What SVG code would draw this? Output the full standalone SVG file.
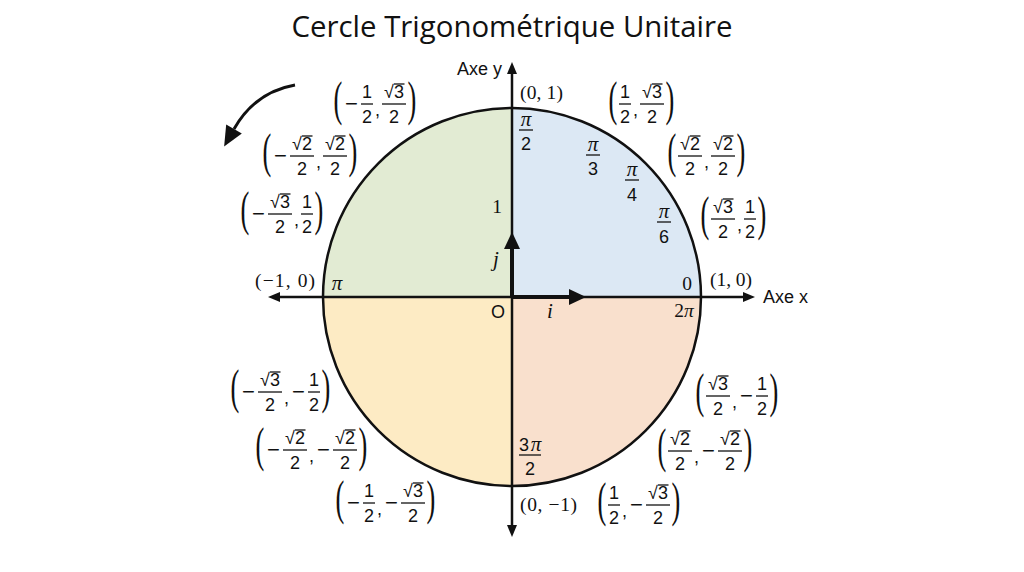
<svg xmlns="http://www.w3.org/2000/svg" width="1024" height="572" viewBox="0 0 1024 572">
<style>
.num{font-family:"Liberation Sans",Arial,sans-serif;font-size:18px;text-anchor:middle;fill:#111}
.mi{font-family:"Liberation Sans",Arial,sans-serif;font-size:22px;text-anchor:middle;fill:#111}
.par{font-family:"Liberation Serif","Times New Roman",serif;font-size:48px;text-anchor:middle;fill:#111}
.bar{stroke:#111;stroke-width:1.3}
.pi{font-family:"Liberation Serif","Times New Roman",serif;font-style:italic;font-size:21px;text-anchor:middle;fill:#111}
.ser{font-family:"Liberation Serif","Times New Roman",serif;font-size:19.5px;fill:#111}
.lab{font-family:"Liberation Sans",Arial,sans-serif;font-size:18px;fill:#111}
.title{font-family:"Open Sans","Liberation Sans",Arial,sans-serif;font-size:30px;fill:#111}
.axis{stroke:#111;stroke-width:2.5;fill:none}
</style>
<defs>
<marker id="ah" markerUnits="userSpaceOnUse" markerWidth="12" markerHeight="10" refX="0" refY="5" orient="auto-start-reverse" overflow="visible">
<path d="M0,0 L12,5 L0,10 Z" fill="#111"/>
</marker>
<marker id="vh" markerUnits="userSpaceOnUse" markerWidth="17" markerHeight="16" refX="0" refY="8" orient="auto" overflow="visible">
<path d="M0,0 L17,8 L0,16 Z" fill="#111"/>
</marker>
<marker id="ch" markerUnits="userSpaceOnUse" markerWidth="20" markerHeight="18" refX="0" refY="9" orient="auto" overflow="visible">
<path d="M0,0 L20,9 L0,18 Z" fill="#111"/>
</marker>
</defs>
<rect width="1024" height="572" fill="#ffffff"/>
<text class="title" x="512" y="37" text-anchor="middle" textLength="441" lengthAdjust="spacingAndGlyphs">Cercle Trigonométrique Unitaire</text>

<g id="circle">
<path d="M512,297 L701,297 A189,189 0 0 0 512,108 Z" fill="#dce8f4"/>
<path d="M512,297 L512,108 A189,189 0 0 0 323,297 Z" fill="#e2ebd3"/>
<path d="M512,297 L323,297 A189,189 0 0 0 512,486 Z" fill="#fdebc4"/>
<path d="M512,297 L512,486 A189,189 0 0 0 701,297 Z" fill="#f9e0cd"/>
<circle cx="512" cy="297" r="189" fill="none" stroke="#111" stroke-width="2.5"/>
</g>

<g id="connectors">
<line class="axis" x1="512" y1="525" x2="512" y2="74" marker-start="url(#ah)" marker-end="url(#ah)"/>
<line class="axis" x1="280" y1="297" x2="743" y2="297" marker-start="url(#ah)" marker-end="url(#ah)"/>
<line x1="512" y1="297" x2="512" y2="249" stroke="#111" stroke-width="4" marker-end="url(#vh)"/>
<line x1="512" y1="297" x2="569" y2="297" stroke="#111" stroke-width="4" marker-end="url(#vh)"/>
<path d="M295,85 Q255,92 234,129" fill="none" stroke="#111" stroke-width="3" marker-end="url(#ch)"/>
</g>

<g id="axis-labels">
<text class="lab" x="457" y="75">Axe y</text>
<text class="lab" x="763" y="303">Axe x</text>
<text class="ser" x="497" y="213" text-anchor="middle">1</text>
<text class="pi" x="496" y="266">j</text>
<text class="lab" x="498" y="318" text-anchor="middle">O</text>
<text class="pi" x="550" y="318">i</text>
</g>

<g id="points">
<text class="ser" x="520" y="99" textLength="43" lengthAdjust="spacing">(0, 1)</text>
<text class="ser" x="710" y="286" textLength="42" lengthAdjust="spacing">(1, 0)</text>
<text class="ser" x="255" y="287" textLength="60" lengthAdjust="spacing">(−1, 0)</text>
<text class="ser" x="520" y="511" textLength="57" lengthAdjust="spacing">(0, −1)</text>
<text class="ser" x="687" y="290" text-anchor="middle">0</text>
<text class="pi" x="337" y="290">π</text>
<text class="ser" x="684" y="317" text-anchor="middle">2<tspan font-style="italic">π</tspan></text>
</g>

<g id="angles">
<g id="a-pi2"><text class="pi" x="526" y="126">π</text><line class="bar" x1="519" y1="130" x2="533" y2="130"/><text class="num" font-size="19" x="526" y="150">2</text></g>
<g id="a-pi3"><text class="pi" x="593" y="151">π</text><line class="bar" x1="586" y1="155" x2="600" y2="155"/><text class="num" font-size="19" x="593" y="175">3</text></g>
<g id="a-pi4"><text class="pi" x="632" y="176">π</text><line class="bar" x1="625" y1="180" x2="639" y2="180"/><text class="num" font-size="19" x="632" y="201">4</text></g>
<g id="a-pi6"><text class="pi" x="664" y="218">π</text><line class="bar" x1="657" y1="222" x2="671" y2="222"/><text class="num" font-size="19" x="664" y="243">6</text></g>
<g id="a-3pi2"><text class="num" font-size="19" x="524" y="451">3</text><text class="pi" x="536" y="451">π</text><line class="bar" x1="519" y1="455" x2="541" y2="455"/><text class="num" font-size="19" x="530" y="475">2</text></g>
</g>

<g id="p1" transform="translate(333,104)">
<text class="par" transform="translate(5,11) scale(0.55,1)">(</text><text class="mi" x="18.5" y="7">−</text>
<text class="num" x="34" y="-6">1</text><line class="bar" x1="28" y1="0" x2="40" y2="0"/><text class="num" x="34" y="19">2</text>
<text class="num" x="44.5" y="12">,</text>
<text class="num" x="61" y="-6">√3</text><line class="bar" x1="49" y1="0" x2="73" y2="0"/><line class="bar" x1="61" y1="-20" x2="71.5" y2="-20"/><text class="num" x="61" y="19">2</text>
<text class="par" transform="translate(79,11) scale(0.55,1)">)</text>
</g>

<g id="p2" transform="translate(262,156)">
<text class="par" transform="translate(5,11) scale(0.55,1)">(</text><text class="mi" x="18.5" y="7">−</text>
<text class="num" x="40" y="-6">√2</text><line class="bar" x1="28" y1="0" x2="52" y2="0"/><line class="bar" x1="40" y1="-20" x2="50.5" y2="-20"/><text class="num" x="40" y="19">2</text>
<text class="num" x="56.5" y="12">,</text>
<text class="num" x="73" y="-6">√2</text><line class="bar" x1="61" y1="0" x2="85" y2="0"/><line class="bar" x1="73" y1="-20" x2="83.5" y2="-20"/><text class="num" x="73" y="19">2</text>
<text class="par" transform="translate(91,11) scale(0.55,1)">)</text>
</g>

<g id="p3" transform="translate(240,214)">
<text class="par" transform="translate(5,11) scale(0.55,1)">(</text><text class="mi" x="18.5" y="7">−</text>
<text class="num" x="40" y="-6">√3</text><line class="bar" x1="28" y1="0" x2="52" y2="0"/><line class="bar" x1="40" y1="-20" x2="50.5" y2="-20"/><text class="num" x="40" y="19">2</text>
<text class="num" x="56.5" y="12">,</text>
<text class="num" x="67" y="-6">1</text><line class="bar" x1="61" y1="0" x2="73" y2="0"/><text class="num" x="67" y="19">2</text>
<text class="par" transform="translate(79,11) scale(0.55,1)">)</text>
</g>

<g id="p4" transform="translate(608,104)">
<text class="par" transform="translate(5,11) scale(0.55,1)">(</text>
<text class="num" x="17" y="-6">1</text><line class="bar" x1="11" y1="0" x2="23" y2="0"/><text class="num" x="17" y="19">2</text>
<text class="num" x="27.5" y="12">,</text>
<text class="num" x="44" y="-6">√3</text><line class="bar" x1="32" y1="0" x2="56" y2="0"/><line class="bar" x1="44" y1="-20" x2="54.5" y2="-20"/><text class="num" x="44" y="19">2</text>
<text class="par" transform="translate(62,11) scale(0.55,1)">)</text>
</g>

<g id="p5" transform="translate(667,156)">
<text class="par" transform="translate(5,11) scale(0.55,1)">(</text>
<text class="num" x="23" y="-6">√2</text><line class="bar" x1="11" y1="0" x2="35" y2="0"/><line class="bar" x1="23" y1="-20" x2="33.5" y2="-20"/><text class="num" x="23" y="19">2</text>
<text class="num" x="39.5" y="12">,</text>
<text class="num" x="56" y="-6">√2</text><line class="bar" x1="44" y1="0" x2="68" y2="0"/><line class="bar" x1="56" y1="-20" x2="66.5" y2="-20"/><text class="num" x="56" y="19">2</text>
<text class="par" transform="translate(74,11) scale(0.55,1)">)</text>
</g>

<g id="p6" transform="translate(700,219)">
<text class="par" transform="translate(5,11) scale(0.55,1)">(</text>
<text class="num" x="23" y="-6">√3</text><line class="bar" x1="11" y1="0" x2="35" y2="0"/><line class="bar" x1="23" y1="-20" x2="33.5" y2="-20"/><text class="num" x="23" y="19">2</text>
<text class="num" x="39.5" y="12">,</text>
<text class="num" x="50" y="-6">1</text><line class="bar" x1="44" y1="0" x2="56" y2="0"/><text class="num" x="50" y="19">2</text>
<text class="par" transform="translate(62,11) scale(0.55,1)">)</text>
</g>

<g id="p7" transform="translate(695,396)">
<text class="par" transform="translate(5,11) scale(0.55,1)">(</text>
<text class="num" x="23" y="-6">√3</text><line class="bar" x1="11" y1="0" x2="35" y2="0"/><line class="bar" x1="23" y1="-20" x2="33.5" y2="-20"/><text class="num" x="23" y="19">2</text>
<text class="num" x="39.5" y="12">,</text><text class="mi" x="51.5" y="7">−</text>
<text class="num" x="67" y="-6">1</text><line class="bar" x1="61" y1="0" x2="73" y2="0"/><text class="num" x="67" y="19">2</text>
<text class="par" transform="translate(79,11) scale(0.55,1)">)</text>
</g>

<g id="p8" transform="translate(657,451)">
<text class="par" transform="translate(5,11) scale(0.55,1)">(</text>
<text class="num" x="23" y="-6">√2</text><line class="bar" x1="11" y1="0" x2="35" y2="0"/><line class="bar" x1="23" y1="-20" x2="33.5" y2="-20"/><text class="num" x="23" y="19">2</text>
<text class="num" x="39.5" y="12">,</text><text class="mi" x="51.5" y="7">−</text>
<text class="num" x="73" y="-6">√2</text><line class="bar" x1="61" y1="0" x2="85" y2="0"/><line class="bar" x1="73" y1="-20" x2="83.5" y2="-20"/><text class="num" x="73" y="19">2</text>
<text class="par" transform="translate(91,11) scale(0.55,1)">)</text>
</g>

<g id="p9" transform="translate(597,505)">
<text class="par" transform="translate(5,11) scale(0.55,1)">(</text>
<text class="num" x="17" y="-6">1</text><line class="bar" x1="11" y1="0" x2="23" y2="0"/><text class="num" x="17" y="19">2</text>
<text class="num" x="27.5" y="12">,</text><text class="mi" x="39.5" y="7">−</text>
<text class="num" x="61" y="-6">√3</text><line class="bar" x1="49" y1="0" x2="73" y2="0"/><line class="bar" x1="61" y1="-20" x2="71.5" y2="-20"/><text class="num" x="61" y="19">2</text>
<text class="par" transform="translate(79,11) scale(0.55,1)">)</text>
</g>

<g id="p10" transform="translate(230,392)">
<text class="par" transform="translate(5,11) scale(0.55,1)">(</text><text class="mi" x="18.5" y="7">−</text>
<text class="num" x="40" y="-6">√3</text><line class="bar" x1="28" y1="0" x2="52" y2="0"/><line class="bar" x1="40" y1="-20" x2="50.5" y2="-20"/><text class="num" x="40" y="19">2</text>
<text class="num" x="56.5" y="12">,</text><text class="mi" x="68.5" y="7">−</text>
<text class="num" x="84" y="-6">1</text><line class="bar" x1="78" y1="0" x2="90" y2="0"/><text class="num" x="84" y="19">2</text>
<text class="par" transform="translate(96,11) scale(0.55,1)">)</text>
</g>

<g id="p11" transform="translate(255,450)">
<text class="par" transform="translate(5,11) scale(0.55,1)">(</text><text class="mi" x="18.5" y="7">−</text>
<text class="num" x="40" y="-6">√2</text><line class="bar" x1="28" y1="0" x2="52" y2="0"/><line class="bar" x1="40" y1="-20" x2="50.5" y2="-20"/><text class="num" x="40" y="19">2</text>
<text class="num" x="56.5" y="12">,</text><text class="mi" x="68.5" y="7">−</text>
<text class="num" x="90" y="-6">√2</text><line class="bar" x1="78" y1="0" x2="102" y2="0"/><line class="bar" x1="90" y1="-20" x2="100.5" y2="-20"/><text class="num" x="90" y="19">2</text>
<text class="par" transform="translate(108,11) scale(0.55,1)">)</text>
</g>

<g id="p12" transform="translate(335,503)">
<text class="par" transform="translate(5,11) scale(0.55,1)">(</text><text class="mi" x="18.5" y="7">−</text>
<text class="num" x="34" y="-6">1</text><line class="bar" x1="28" y1="0" x2="40" y2="0"/><text class="num" x="34" y="19">2</text>
<text class="num" x="44.5" y="12">,</text><text class="mi" x="56.5" y="7">−</text>
<text class="num" x="78" y="-6">√3</text><line class="bar" x1="66" y1="0" x2="90" y2="0"/><line class="bar" x1="78" y1="-20" x2="88.5" y2="-20"/><text class="num" x="78" y="19">2</text>
<text class="par" transform="translate(96,11) scale(0.55,1)">)</text>
</g>
</svg>
